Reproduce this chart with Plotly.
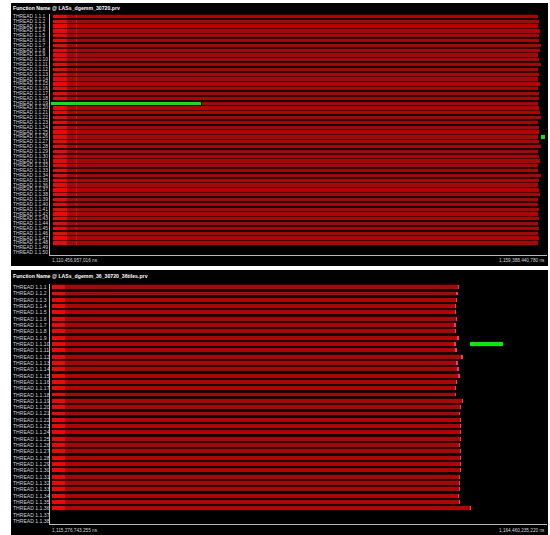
import plotly.graph_objects as go

W, H = 550, 535

# ---------------- trace windows (absolute time, ns) ----------------
top_title = "Function Name @ LASs_dgemm_30720.prv"
top_begin_ns = 1110456957016
top_end_ns = 1159388440780

bot_title = "Function Name @ LASs_dgemm_36_30720_36tiles.prv"
bot_begin_ns = 1115276743255
bot_end_ns = 1164460235220

# ---------------- top trace: 50 thread rows, 48 with activity (ms from window start) ----------------
top_threads = [f"THREAD 1.1.{i}" for i in range(1, 51)]
top_run_start = 295
top_first_phase_end = 1670
top_marker_time = 2560
top_run_end = [48050, 48150, 48040, 48240, 48100, 48150, 48300, 48200, 48050, 48150,
               48350, 48050, 48100, 48050, 48250, 48050, 48100, 48150, 48050, 48100,
               48200, 48350, 48050, 48100, 48150, 48050, 48150, 48350, 48050, 48100,
               48200, 48050, 48050, 48300, 48150, 48050, 48100, 48200, 48050, 48050,
               48150, 48050, 48100, 48050, 48150, 48050, 48100, 48050]
top_green_rows = [19, 26]
top_green_start = [100, 48340]
top_green_end = [14870, 48730]
top_row19_resume = 14950

# ---------------- bottom trace: 38 thread rows, 36 with activity ----------------
bot_threads = [f"THREAD 1.1.{i}" for i in range(1, 39)]
bot_run_start = 198
bot_first_phase_end = 1484
bot_run_end = [40475, 40326, 40277, 40178, 40178, 40277, 40148, 40178, 40445, 40109,
               40247, 40841, 40346, 40445, 40544, 40277, 40178, 40178, 40870, 40672,
               40574, 40672, 40672, 40672, 40672, 40574, 40672, 40672, 40672, 40672,
               40574, 40574, 40574, 40475, 40574, 41662]
bot_green_rows = [10]
bot_green_start = [41563]
bot_green_end = [44829]

BRIGHT = "#ff0000"
BODY = "#b80000"
GREEN = "#00ee00"
TIP = "#ff2a8a"
LABEL = "#d4d4dc"
FONT = "Liberation Sans, Arial, sans-serif"


def py(p):
    return 1 - p / H


def px(p):
    return p / W


fig = go.Figure()


def add_bars(rows, start, end, color, width, xa, ya, name):
    base = start if isinstance(start, list) else [start] * len(rows)
    dur = [e - b for e, b in zip(end, base)]
    fig.add_trace(go.Bar(
        y=rows, x=dur, base=base, orientation="h", width=width,
        marker=dict(color=color, line=dict(width=0)),
        xaxis=xa, yaxis=ya, name=name, showlegend=False, hoverinfo="skip"))


# top panel
top_rows = list(range(1, len(top_run_end) + 1))
plain_rows = [r for r in top_rows if r != 19]
add_bars(plain_rows, top_run_start, [top_run_end[r - 1] for r in plain_rows], BODY, 0.68, "x", "y", "run")
add_bars([19], [top_row19_resume], [top_run_end[18]], BODY, 0.68, "x", "y", "run")
add_bars(plain_rows, top_run_start, [top_first_phase_end] * len(plain_rows), BRIGHT, 0.68, "x", "y", "phase")
add_bars(plain_rows, top_marker_time, [top_marker_time + 80] * len(plain_rows), "#e01010", 0.68, "x", "y", "mark")
add_bars(top_green_rows, top_green_start, top_green_end, GREEN, 0.68, "x", "y", "other")

# bottom panel
bot_rows = list(range(1, len(bot_run_end) + 1))
add_bars(bot_rows, bot_run_start, bot_run_end, BODY, 0.62, "x2", "y2", "run")
add_bars(bot_rows, bot_run_start, [bot_first_phase_end] * len(bot_rows), BRIGHT, 0.62, "x2", "y2", "phase")
add_bars(bot_rows, [e - 90 for e in bot_run_end], bot_run_end, TIP, 0.62, "x2", "y2", "tip")
add_bars(bot_green_rows, bot_green_start, bot_green_end, GREEN, 0.62, "x2", "y2", "other")

top_span = (top_end_ns - top_begin_ns) / 1e6
bot_span = (bot_end_ns - bot_begin_ns) / 1e6

axis_common = dict(showgrid=False, zeroline=False, showticklabels=False, ticks="",
                   showline=True, linecolor="#b8b8b8", linewidth=1, fixedrange=True)

fig.update_layout(
    width=W, height=H, margin=dict(l=0, r=0, t=0, b=0),
    paper_bgcolor="white", plot_bgcolor="black", barmode="overlay", bargap=0,
    xaxis=dict(domain=[px(50), px(547)], range=[0, top_span], anchor="y", **axis_common),
    yaxis=dict(domain=[py(255), py(14)], range=[len(top_threads) + 0.5, 0.5], anchor="x", **axis_common),
    xaxis2=dict(domain=[px(50), px(547)], range=[0, bot_span], anchor="y2", **axis_common),
    yaxis2=dict(domain=[py(524), py(284)], range=[len(bot_threads) + 0.5, 0.5], anchor="x2", **axis_common),
)

# black window frames
fig.add_shape(type="rect", xref="paper", yref="paper", x0=px(11), x1=px(548), y0=py(266), y1=py(3),
              fillcolor="black", line=dict(width=0), layer="below")
fig.add_shape(type="rect", xref="paper", yref="paper", x0=px(11), x1=px(548), y0=py(535), y1=py(270),
              fillcolor="black", line=dict(width=0), layer="below")

ann = []
for title, ypix in [(top_title, 8), (bot_title, 276)]:
    ann.append(dict(text=f"<b>{title}</b>", xref="paper", yref="paper", x=px(11), y=py(ypix),
                    xanchor="left", yanchor="middle", showarrow=False,
                    font=dict(family=FONT, size=5.2, color="white")))

for i, lab in enumerate(top_threads, start=1):
    ann.append(dict(text=lab, xref="paper", yref="y", x=px(11), y=i, xanchor="left", yanchor="middle",
                    showarrow=False, font=dict(family=FONT, size=4.9, color=LABEL)))
for i, lab in enumerate(bot_threads, start=1):
    ann.append(dict(text=lab, xref="paper", yref="y2", x=px(11), y=i, xanchor="left", yanchor="middle",
                    showarrow=False, font=dict(family=FONT, size=5.1, color=LABEL)))

for xr, span, b, e, ypix in [("x", top_span, top_begin_ns, top_end_ns, 260),
                             ("x2", bot_span, bot_begin_ns, bot_end_ns, 530)]:
    ann.append(dict(text=f"{b:,} ns", xref=xr, yref="paper", x=0, y=py(ypix), xanchor="left",
                    yanchor="middle", showarrow=False, font=dict(family=FONT, size=4.7, color=LABEL)))
    ann.append(dict(text=f"{e:,} ns", xref=xr, yref="paper", x=span, y=py(ypix), xanchor="right",
                    yanchor="middle", showarrow=False, font=dict(family=FONT, size=4.7, color=LABEL)))

fig.update_layout(annotations=ann)
fig.write_html("out.html")
